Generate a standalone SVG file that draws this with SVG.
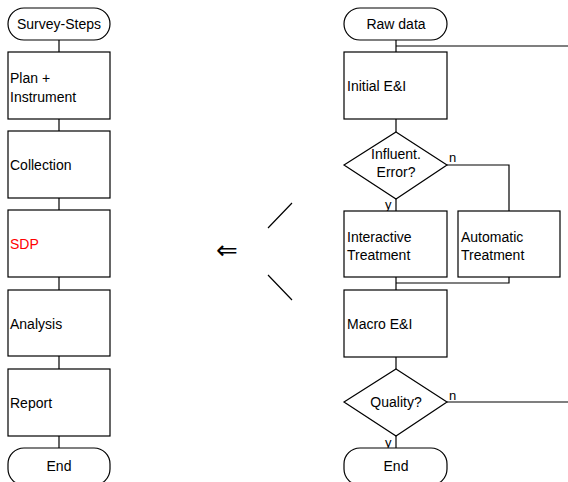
<svg xmlns="http://www.w3.org/2000/svg" width="568" height="482" viewBox="0 0 568 482">
<style>
.s{fill:#fff;stroke:#000;stroke-width:1.2}
.l{fill:none;stroke:#000;stroke-width:1.2}
text{font-family:"Liberation Sans",Arial,sans-serif;font-size:14px;fill:#000}
.c{text-anchor:middle}
.lb{font-size:13px}
.arr{font-family:"DejaVu Sans",sans-serif;font-size:26px}
</style>
<rect width="568" height="482" fill="#fff"/>
<g id="connectors">
<path class="l" d="M59 40V52M59 119V131M59 198V210M59 277V290M59 356V369M59 436V448"/>
<path class="l" d="M396 40V52M396 46H568M396 119V132M396 199V211M447 165H509V211M396 277V290M396 283H509V277M396 357V369M396 436V448M447 402H568"/>
<path class="l" d="M268 228L292 203M268 275L292 300"/>
<text x="449" y="162" class="lb">n</text>
<text x="385" y="209" class="lb">y</text>
<text x="449" y="400" class="lb">n</text>
<text x="385" y="447" class="lb">y</text>
<text x="227" y="259" class="c arr">⇐</text>
</g>
<g id="survey-steps"><rect class="s" x="8" y="8" width="102" height="32" rx="16"/><text x="59" y="29" class="c">Survey-Steps</text></g>
<g id="plan"><rect class="s" x="8" y="52" width="102" height="67"/><text x="10" y="83">Plan +</text><text x="10" y="102">Instrument</text></g>
<g id="collection"><rect class="s" x="8" y="131" width="102" height="67"/><text x="10" y="170">Collection</text></g>
<g id="sdp"><rect class="s" x="8" y="210" width="102" height="67"/><text x="10" y="249" style="fill:#f00">SDP</text></g>
<g id="analysis"><rect class="s" x="8" y="290" width="102" height="66"/><text x="10" y="329">Analysis</text></g>
<g id="report"><rect class="s" x="8" y="369" width="102" height="67"/><text x="10" y="408">Report</text></g>
<g id="end-left"><rect class="s" x="8" y="448" width="102" height="37" rx="16"/><text x="59" y="471" class="c">End</text></g>
<g id="raw-data"><rect class="s" x="344" y="8" width="103" height="32" rx="16"/><text x="396" y="29" class="c">Raw data</text></g>
<g id="initial-ei"><rect class="s" x="344" y="52" width="103" height="67"/><text x="347" y="91">Initial E&amp;I</text></g>
<g id="influent-error"><polygon class="s" points="396,132 447,165 396,199 344,165"/><text x="396" y="159" class="c">Influent.</text><text x="396" y="177" class="c">Error?</text></g>
<g id="interactive"><rect class="s" x="344" y="211" width="103" height="66"/><text x="347" y="242">Interactive</text><text x="347" y="260">Treatment</text></g>
<g id="automatic"><rect class="s" x="458" y="211" width="102" height="66"/><text x="461" y="242">Automatic</text><text x="461" y="260">Treatment</text></g>
<g id="macro-ei"><rect class="s" x="344" y="290" width="103" height="67"/><text x="347" y="329">Macro E&amp;I</text></g>
<g id="quality"><polygon class="s" points="396,369 447,402 396,436 344,402"/><text x="396" y="407" class="c">Quality?</text></g>
<g id="end-right"><rect class="s" x="344" y="448" width="103" height="37" rx="16"/><text x="396" y="471" class="c">End</text></g>
</svg>
